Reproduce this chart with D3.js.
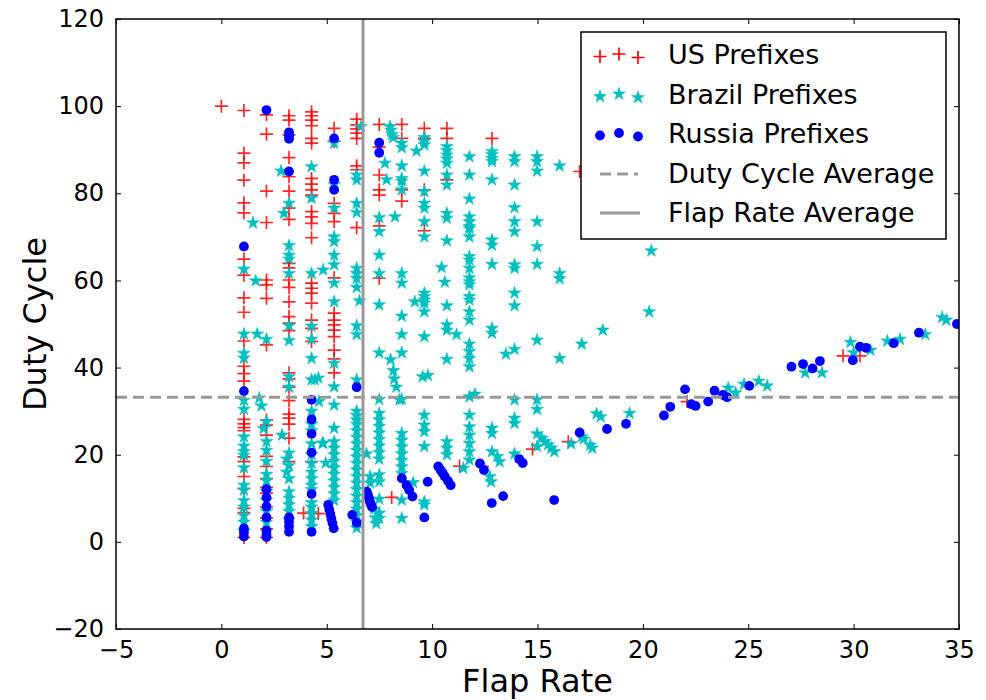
<!DOCTYPE html>
<html>
<head>
<meta charset="utf-8">
<script src="https://cdn.jsdelivr.net/npm/d3@7"></script>
<style>
  body { margin: 0; background: #fff; }
  text { font-family: "DejaVu Sans", sans-serif; fill: #000; }
</style>
</head>
<body>
<div id="chart"></div>
<script>
// [flap rate, duty cycle]
var usPrefixes = [
  [0, 100],
  [1.07, 99], [1.07, 89.2], [1.07, 87], [1.07, 83], [1.07, 77.8], [1.07, 75.5], [1.07, 64.9], [1.07, 61.2],
  [1.07, 56], [1.07, 52.7], [1.07, 46.1], [1.07, 40.3], [1.07, 38.6], [1.07, 36.9], [1.07, 28.1], [1.07, 27.1],
  [1.07, 26.2], [1.07, 25.5], [1.07, 19.5], [1.07, 18.4], [1.07, 15], [1.07, 12.2], [1.07, 7.7], [1.07, 6.7], [1.07, 1],
  [2.14, 98], [2.14, 93.6], [2.14, 80.5], [2.14, 73.3], [2.14, 60.1], [2.14, 59], [2.14, 55.9], [2.14, 45.2],
  [2.14, 28], [2.14, 26.8], [2.14, 24.5], [2.14, 19.6], [2.14, 17.3], [2.14, 14.5], [2.14, 12.5], [2.14, 11.2],
  [2.14, 8], [2.14, 5.5], [2.14, 3], [2.14, 1],
  [3.21, 97.8], [3.21, 96.8], [3.21, 93.4], [3.21, 88.2], [3.21, 83.8], [3.21, 80.5], [3.21, 76.6], [3.21, 74],
  [3.21, 63.9], [3.21, 62.9], [3.21, 60.1], [3.21, 58.4], [3.21, 55.1], [3.21, 51.7], [3.21, 50.2], [3.21, 48.5],
  [3.21, 38.8], [3.21, 37.4], [3.21, 35.5], [3.21, 32.4], [3.21, 29.3], [3.21, 28.4], [3.21, 27], [3.21, 23.8], [3.21, 18.4],
  [4.28, 98.7], [4.28, 97.8], [4.28, 96.8], [4.28, 95.5], [4.28, 92.6], [4.28, 91.5], [4.28, 83.4], [4.28, 82.1],
  [4.28, 80.8], [4.28, 79.6], [4.28, 75.8], [4.28, 74.6], [4.28, 73.1], [4.28, 69.8], [4.28, 59.4], [4.28, 58.2],
  [4.28, 57.1], [4.28, 54.8], [4.28, 50.9], [4.28, 49], [4.28, 46], [4.28, 18.4], [3.9, 6.6], [4.6, 6.5],
  [5.35, 94.9], [5.35, 91.9], [5.35, 77.7], [5.35, 75.4], [5.35, 73.5], [5.35, 60.6], [5.35, 52.5], [5.35, 50.9],
  [5.35, 49.8], [5.35, 48.6], [5.35, 47.1], [5.35, 44], [5.35, 42], [5.35, 38.8],
  [6.42, 97], [6.42, 95.7], [6.42, 94.8], [6.42, 93.8], [6.42, 92.6], [6.42, 86.3], [6.42, 85.4], [6.42, 72.1],
  [7.49, 95.8], [7.49, 90.6], [7.49, 84.2], [7.49, 80.8], [7.49, 79.6], [7.49, 72.5], [7.49, 60.5], [8.08, 10.2],
  [8.56, 95.8], [8.56, 92.6], [8.56, 80.8], [8.56, 78.2],
  [9.63, 94.9], [9.63, 92.6], [9.63, 80.8], [9.63, 71.4],
  [10.7, 94.9], [10.7, 92.6], [10.7, 83.1], [11.3, 17.4], [12.4, 17.3], [12.84, 92.6],
  [14.76, 21.3], [16.46, 23], [17.0, 85], [22.1, 32.2], [29.5, 42.7], [30.3, 42.7]
];

var brazilPrefixes = [
  [1.07, 62.6], [1.07, 47.7], [1.07, 43.3], [1.07, 42.2], [1.07, 32.5], [1.07, 30.4], [1.07, 24.1], [1.07, 22],
  [1.07, 20.7], [1.07, 19.9], [1.07, 17], [1.07, 13], [1.07, 11.9], [1.07, 9.5], [1.07, 8], [1.07, 6], [1.07, 4.5], [1.07, 2.5],
  [1.5, 73.2], [1.63, 59.9], [1.7, 47.7], [2.14, 46.5], [1.8, 33], [1.9, 31.2], [2.14, 27.6], [2.0, 26],
  [2.14, 23], [2.14, 21], [2.14, 18.5], [2.14, 15.5], [2.14, 14], [2.14, 11.5], [2.14, 9.5], [2.14, 7], [2.14, 4.5],
  [2.83, 85.1], [3.21, 77.7], [2.97, 75.4], [3.21, 68], [3.21, 65.8], [3.21, 64.9], [3.21, 61.6], [3.21, 49.6],
  [3.21, 46.2], [3.21, 37.9], [3.21, 35.5], [2.88, 24.5], [3.21, 20.4], [3.1, 19], [3.21, 17.5], [3.1, 16],
  [3.21, 14.5], [3.21, 11.5], [3.21, 10], [3.21, 8.5], [3.21, 7], [3.21, 5],
  [4.28, 86.1], [4.28, 78.9], [4.28, 61.6], [4.83, 62.4], [4.28, 49.5], [4.28, 46.5], [4.28, 42.1], [4.6, 37.6],
  [4.28, 37.2], [4.63, 32.2], [4.28, 30], [4.28, 27], [4.28, 25.5], [4.28, 22.5], [4.28, 20], [4.28, 18],
  [4.28, 16], [4.28, 14.5], [4.28, 13], [4.28, 12], [4.28, 9], [4.28, 8], [4.28, 6.5], [4.28, 5], [4.28, 3.5],
  [4.44, 37.2], [4.83, 22.6],
  [5.35, 91.5], [5.35, 82], [5.35, 76.6], [5.35, 70], [5.35, 68.9], [5.35, 65.8], [5.35, 63.6], [5.35, 59.4],
  [5.35, 55.1], [5.35, 41], [5.35, 35.6], [5.35, 31.4], [5.35, 26.1], [4.8, 22.7], [4.95, 18.1], [5.35, 23],
  [5.35, 21.5], [5.35, 20], [5.35, 18.5], [5.35, 17], [5.35, 15.5], [5.35, 14], [5.35, 12.5], [5.35, 11], [5.35, 9.5],
  [6.62, 95.3], [6.42, 84.2], [6.42, 83.1], [6.42, 77.7], [6.42, 75.6], [6.42, 62.8], [6.42, 61.6], [6.42, 60.5],
  [6.42, 58.4], [6.55, 55.3], [6.42, 49.6], [6.42, 47.6], [6.42, 37.2], [6.42, 30], [6.42, 29], [6.42, 28],
  [6.42, 27], [6.42, 25.5], [6.42, 24], [6.42, 22.5], [6.42, 21], [6.42, 19.5], [6.42, 18], [6.42, 16.5],
  [6.42, 15], [6.42, 13.5], [6.42, 12], [6.42, 10.5], [6.42, 9], [6.42, 7.5], [6.42, 6], [6.42, 4.5], [6.42, 3.2],
  [7.76, 86.9], [7.84, 83.1], [7.49, 74.4], [8.24, 74.6], [7.49, 71.2], [7.49, 65.8], [7.49, 61.6], [7.49, 54.4],
  [7.49, 43.4], [7.49, 32.7], [7.49, 29.5], [7.49, 28], [7.49, 26.5], [7.49, 25], [7.49, 23.5], [7.49, 22],
  [7.49, 20.5], [7.49, 19], [7.49, 15.4], [7.49, 13.8], [7.49, 9.8], [7.49, 6.6], [7.49, 5.4], [6.89, 20.2],
  [7.06, 15], [7.06, 13.5], [7.25, 7.5], [7.3, 5.5], [7.35, 4.2], [8.03, 41.8], [8.16, 39.3], [8.2, 37.4],
  [8.3, 35.5], [8.45, 32.6], [8.0, 95.3], [8.05, 94.5], [8.1, 93.5], [8.15, 92.8],
  [8.56, 91.5], [8.56, 90.5], [8.56, 86.3], [8.56, 83.4], [8.56, 82.8], [8.56, 80.8], [8.56, 61.6], [8.56, 59.4],
  [8.56, 51.8], [8.56, 47.6], [8.56, 43.4], [8.56, 32.7], [8.56, 24.9], [8.56, 23.3], [8.56, 21.8], [8.56, 20.2],
  [8.56, 18.7], [8.56, 17.2], [8.56, 15.7], [8.56, 9.6], [8.56, 5.4], [9.26, 89.7], [9.1, 13.6],
  [9.63, 92.8], [9.63, 91.9], [9.63, 91.1], [9.63, 85.1], [9.63, 80.4], [9.63, 77.7], [9.63, 76.6], [9.63, 73.5],
  [9.63, 70], [9.63, 57.1], [9.63, 56.3], [9.63, 55.5], [9.63, 54.8], [9.18, 55.1], [9.63, 52.8], [9.63, 47.1],
  [9.55, 37.9], [9.8, 38.2], [9.63, 29.1], [9.63, 26.8], [9.63, 25.3], [9.63, 21.9], [9.63, 9.2], [9.63, 8.5],
  [10.7, 90.7], [10.7, 89.8], [10.7, 88.8], [10.7, 87.9], [10.7, 86.9], [10.7, 84.2], [10.7, 81.9], [10.7, 75.4],
  [10.7, 74.3], [10.7, 69.1], [10.45, 63], [10.6, 59.6], [10.7, 54.2], [10.7, 49.8], [10.7, 48.6], [11.16, 47.6],
  [10.7, 41.9], [10.7, 23], [10.7, 21.5], [10.7, 20], [11.48, 16.9],
  [11.77, 88.4], [11.77, 84.2], [11.77, 78.7], [11.77, 74.6], [11.77, 73.5], [11.77, 72.4], [11.77, 71.9], [11.77, 70],
  [11.77, 65.5], [11.77, 64.7], [11.77, 62.8], [11.77, 60.6], [11.77, 59.7], [11.77, 59], [11.77, 56.3], [11.77, 55.5],
  [11.77, 52.8], [11.77, 50.9], [11.77, 45.4], [11.77, 43.7], [11.77, 42.1], [11.77, 40.2], [12.03, 33.9], [11.77, 33.3],
  [11.77, 29.1], [11.77, 26.4], [11.77, 24.5], [11.77, 22.6], [11.77, 20.7], [11.77, 18.8],
  [12.84, 89.6], [12.84, 88.9], [12.84, 88], [12.84, 87.3], [12.84, 83.1], [12.84, 69.3], [12.84, 68.1], [12.84, 63.7],
  [12.84, 49], [12.84, 47.9], [12.84, 26.1], [12.84, 24.9], [12.84, 20.7], [13.1, 19.6], [13.2, 18.4], [12.74, 15], [12.8, 13.8],
  [13.91, 88.4], [13.91, 87.3], [13.91, 81.9], [13.91, 76.7], [13.91, 73.5], [13.91, 71.2], [13.91, 63.6], [13.91, 62.8],
  [13.91, 57.1], [13.91, 54.2], [13.91, 44.2], [13.5, 43.1], [13.91, 32.6], [13.91, 28.4], [13.91, 27.2], [13.91, 20.2],
  [14.98, 88.4], [14.98, 87.3], [14.98, 85.1], [14.98, 73.5], [14.98, 67.8], [14.98, 63.7], [14.98, 46.3], [14.98, 32.6],
  [14.98, 30.4], [14.98, 24.8], [14.98, 21.9], [15.2, 23.8], [15.35, 23], [15.5, 22.3], [15.65, 21.5], [15.8, 20.7],
  [16.05, 86.3], [16.05, 61.6], [16.05, 60.4], [16.05, 42.1], [16.6, 22.5], [17.1, 45.4], [17.1, 24.1], [17.2, 23.6],
  [17.5, 22.2], [17.6, 21.5], [17.8, 29.4], [18.0, 28.7], [18.1, 48.6], [19.37, 29.5], [20.3, 52.8], [20.4, 66.8],
  [24.05, 35.3], [24.4, 34.2], [24.8, 36.2], [25.5, 36.9], [25.9, 35.8], [27.7, 38.8], [28.5, 38.8], [29.85, 45.8],
  [30.0, 43.4], [30.8, 44], [31.6, 46.1], [32.2, 46.5], [33.4, 47.6], [34.2, 51.5], [34.4, 50.9]
];

var russiaPrefixes = [
  [1.07, 67.8], [1.07, 34.6], [1.07, 3.1], [1.07, 2.2], [1.07, 1.2],
  [2.14, 99.1], [2.14, 12.1], [2.14, 10.2], [2.14, 8.1], [2.14, 5.6], [2.14, 2.6], [2.14, 1.6], [2.14, 1.1],
  [3.21, 94], [3.21, 93.2], [3.21, 92.5], [3.21, 85], [3.21, 5.6], [3.21, 4.6], [3.21, 3.5], [3.21, 2.3],
  [4.28, 32.6], [4.28, 28.1], [4.28, 24.8], [4.28, 20.5], [4.28, 11], [4.28, 2.3],
  [5.35, 92.6], [5.35, 83.1], [5.35, 80.8], [5.07, 8.5], [5.12, 7.4], [5.17, 6.4], [5.22, 5.3], [5.27, 4.3], [5.33, 3.1],
  [6.42, 35.5], [6.21, 6.2], [6.42, 4.4],
  [7.49, 91.6], [7.49, 89.3], [6.9, 11.5], [6.95, 10.8], [7.0, 10], [7.05, 9.2], [7.1, 8.5], [7.15, 8.0],
  [8.56, 14.6], [8.79, 13], [8.91, 11.9], [9.07, 10.4], [9.79, 13.8], [9.63, 5.6],
  [10.29, 17.3], [10.4, 16.5], [10.5, 15.8], [10.6, 15], [10.75, 14], [10.88, 13],
  [12.27, 18], [12.46, 16.5], [12.83, 8.9], [13.37, 10.5], [14.13, 19], [14.3, 18.1],
  [15.79, 9.6], [17.0, 25.1], [18.3, 25.9], [19.2, 27.1], [21.0, 29], [21.3, 31], [22.0, 35], [22.3, 31.6],
  [22.5, 31.2], [23.1, 32.2], [23.4, 34.7], [23.8, 33.7], [24.0, 33.2], [25.05, 35.8], [27.05, 40.2], [27.6, 40.8],
  [28.05, 39.8], [28.4, 41.5], [29.96, 41.7], [30.3, 44.8], [30.6, 44.5], [31.9, 45.6], [33.1, 48], [34.9, 50]
];

var dutyCycleAverage = 33.2;
var flapRateAverage = 6.72;

var xTicks = [-5, 0, 5, 10, 15, 20, 25, 30, 35];
var yTicks = [-20, 0, 20, 40, 60, 80, 100, 120];
var legendLabels = ['US Prefixes', 'Brazil Prefixes', 'Russia Prefixes', 'Duty Cycle Average', 'Flap Rate Average'];

var width = 986, height = 700;
var margin = { top: 19, right: 27, bottom: 71, left: 116 };
var w = width - margin.left - margin.right;
var h = height - margin.top - margin.bottom;

var svg = d3.select('#chart').append('svg')
  .attr('width', width)
  .attr('height', height);

var x = d3.scaleLinear().domain([-5, 35]).range([0, w]);
var y = d3.scaleLinear().domain([-20, 120]).range([h, 0]);

svg.append('defs').append('clipPath').attr('id', 'clip')
  .append('rect').attr('width', w).attr('height', h);

var g = svg.append('g')
  .attr('transform', 'translate(' + margin.left + ',' + margin.top + ')');

var plot = g.append('g').attr('clip-path', 'url(#clip)');

var plusPath = 'M-6.5,0H6.5M0,-6.5V6.5';
var star = d3.symbol().type(d3.symbolStar).size(50);

function drawPlus(sel) {
  sel.attr('d', plusPath).attr('fill', 'none').attr('stroke', '#ff0000').attr('stroke-width', 1.7);
}
function drawStar(sel) {
  sel.attr('d', star).attr('fill', '#00bfbf').attr('stroke', '#00bfbf').attr('stroke-width', 0.6);
}

plot.selectAll('.us').data(usPrefixes).enter().append('path')
  .attr('class', 'us')
  .attr('transform', function (d) { return 'translate(' + x(d[0]) + ',' + y(d[1]) + ')'; })
  .call(drawPlus)
  .attr('stroke-opacity', 0.85);

plot.selectAll('.br').data(brazilPrefixes).enter().append('path')
  .attr('class', 'br')
  .attr('transform', function (d) { return 'translate(' + x(d[0]) + ',' + y(d[1]) + ')'; })
  .call(drawStar);

plot.selectAll('.ru').data(russiaPrefixes).enter().append('circle')
  .attr('class', 'ru')
  .attr('cx', function (d) { return x(d[0]); })
  .attr('cy', function (d) { return y(d[1]); })
  .attr('r', 4.9)
  .attr('fill', '#0000ff');

// average lines
plot.append('line')
  .attr('x1', 0).attr('x2', w)
  .attr('y1', y(dutyCycleAverage)).attr('y2', y(dutyCycleAverage))
  .attr('stroke', '#999').attr('stroke-width', 3).attr('stroke-dasharray', '11,6');
plot.append('line')
  .attr('x1', x(flapRateAverage)).attr('x2', x(flapRateAverage))
  .attr('y1', 0).attr('y2', h)
  .attr('stroke', '#999').attr('stroke-width', 3);

// axes: ticks inside on all four sides, matplotlib classic look
var tickLen = 5;
var xAxis = g.append('g').attr('transform', 'translate(0,' + h + ')')
  .call(d3.axisBottom(x).tickValues(xTicks).tickSizeInner(-tickLen).tickSizeOuter(0).tickPadding(12)
    .tickFormat(function (d) { return d < 0 ? '\u2212' + Math.abs(d) : d; }));
var yAxis = g.append('g')
  .call(d3.axisLeft(y).tickValues(yTicks).tickSizeInner(-tickLen).tickSizeOuter(0).tickPadding(12)
    .tickFormat(function (d) { return d < 0 ? '\u2212' + Math.abs(d) : d; }));
g.append('g').call(d3.axisTop(x).tickValues(xTicks).tickSizeInner(-tickLen).tickSizeOuter(0).tickFormat(''));
g.append('g').attr('transform', 'translate(' + w + ',0)')
  .call(d3.axisRight(y).tickValues(yTicks).tickSizeInner(-tickLen).tickSizeOuter(0).tickFormat(''));

g.selectAll('.domain').remove();
g.selectAll('.tick line').attr('stroke', '#000').attr('stroke-width', 1);
xAxis.selectAll('text').attr('font-size', 24).attr('font-family', 'DejaVu Sans');
yAxis.selectAll('text').attr('font-size', 24).attr('font-family', 'DejaVu Sans');

g.append('rect').attr('width', w).attr('height', h)
  .attr('fill', 'none').attr('stroke', '#000').attr('stroke-width', 1.5);

// axis labels
svg.append('text')
  .attr('x', margin.left + w / 2).attr('y', 692)
  .attr('text-anchor', 'middle').attr('font-size', 32)
  .text('Flap Rate');
svg.append('text')
  .attr('transform', 'translate(46,' + (margin.top + h / 2) + ') rotate(-90)')
  .attr('text-anchor', 'middle').attr('font-size', 32)
  .text('Duty Cycle');

// legend
var legend = svg.append('g').attr('transform', 'translate(581,32)');
legend.append('rect').attr('width', 365).attr('height', 207)
  .attr('fill', '#fff').attr('stroke', '#000').attr('stroke-width', 1.5);

var rowY = [23, 63, 102, 142, 181];
var markerX = [19, 38, 57];
var jitter = [1.5, -1, 2.5];

legend.selectAll('.lab').data(legendLabels).enter().append('text')
  .attr('x', 87).attr('y', function (d, i) { return rowY[i]; })
  .attr('dy', '0.35em').attr('font-size', 27)
  .text(function (d) { return d; });

legend.selectAll('.lus').data(markerX).enter().append('path')
  .attr('transform', function (d, i) { return 'translate(' + d + ',' + (rowY[0] + jitter[i]) + ')'; })
  .call(drawPlus);
legend.selectAll('.lbr').data(markerX).enter().append('path')
  .attr('transform', function (d, i) { return 'translate(' + d + ',' + (rowY[1] + jitter[i]) + ')'; })
  .call(drawStar);
legend.selectAll('.lru').data(markerX).enter().append('circle')
  .attr('cx', function (d) { return d; })
  .attr('cy', function (d, i) { return rowY[2] + jitter[i]; })
  .attr('r', 4.9).attr('fill', '#0000ff');

legend.append('line').attr('x1', 19).attr('x2', 57).attr('y1', rowY[3]).attr('y2', rowY[3])
  .attr('stroke', '#999').attr('stroke-width', 3).attr('stroke-dasharray', '11,6');
legend.append('line').attr('x1', 19).attr('x2', 59).attr('y1', rowY[4]).attr('y2', rowY[4])
  .attr('stroke', '#999').attr('stroke-width', 3);
</script>
</body>
</html>
